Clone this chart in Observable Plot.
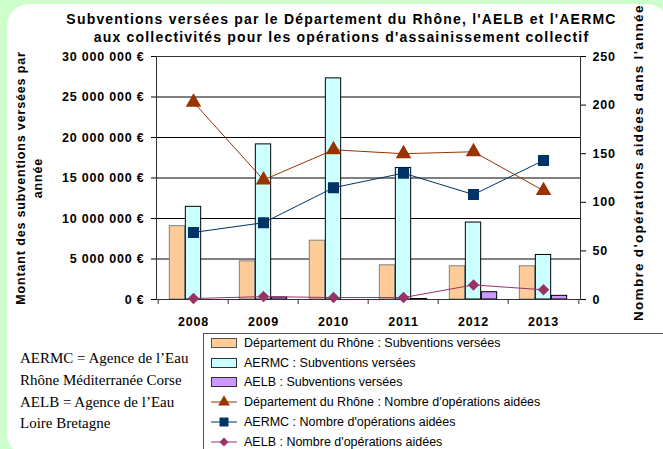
<!DOCTYPE html>
<html>
<head>
<meta charset="utf-8">
<script src="https://cdn.jsdelivr.net/npm/d3@7"></script>
<script src="https://cdn.jsdelivr.net/npm/@observablehq/plot@0.6"></script>
<style>
  html, body { margin: 0; padding: 0; }
  body { width: 663px; height: 449px; background: #ccffcc; position: relative; overflow: hidden; font-family: "Liberation Sans", Arial, sans-serif; }
  #card { position: absolute; left: 7px; top: 4px; width: 662px; height: 452px; background: #fff; border-radius: 22px; }
  #chart { position: absolute; left: 0; top: 0; }
  #chart svg text { letter-spacing: 0.8px; }
  .title { position: absolute; left: 0; width: 683px; text-align: center; font-weight: bold; font-size: 14px; letter-spacing: 1.2px; color: #000; white-space: nowrap; }
  #ylabL { position: absolute; left: -110px; top: 161px; width: 280px; text-align: center; font-weight: bold; font-size: 12.5px; letter-spacing: 0.85px; line-height: 17px; transform: rotate(-90deg); }
  #ylabR { position: absolute; font-weight: bold; font-size: 13.5px; letter-spacing: 1.3px; white-space: nowrap; transform-origin: 0 0; transform: rotate(-90deg); left: 631px; top: 321px; }
  #notes { position: absolute; left: 20px; top: 348px; font-family: "Liberation Serif", "Times New Roman", serif; font-size: 15px; line-height: 21.8px; color: #000; }
  #legend { position: absolute; left: 203px; top: 333px; width: 480px; height: 130px; border: 1px solid #555; background: #fff; }
  #legend div { position: absolute; left: 6px; height: 20px; font-size: 12.5px; white-space: nowrap; display: flex; align-items: center; }
  #legend svg { margin-right: 6px; }
</style>
</head>
<body>
<div id="card"></div>
<div id="chart"></div>
<div class="title" style="top:11px">Subventions versées par le Département du Rhône, l'AELB et l'AERMC</div>
<div class="title" style="top:29px">aux collectivités pour les opérations d'assainissement collectif</div>
<div id="ylabL">Montant des subventions versées par<br>année</div>
<div id="ylabR">Nombre d'opérations aidées dans l'année</div>
<div id="notes">AERMC = Agence de l’Eau<br>Rhône Méditerranée Corse<br>AELB = Agence de l’Eau<br>Loire Bretagne</div>
<div id="legend"></div>
<script>
// ---- data ----
const years = ["2008", "2009", "2010", "2011", "2012", "2013"];
const rhoneMontant = [9050000, 4710000, 7260000, 4220000, 4100000, 4100000];
const aermcMontant = [11440000, 19150000, 27300000, 16240000, 9500000, 5500000];
const aelbMontant  = [0, 250000, 0, 60000, 900000, 450000];
const rhoneNb = [203, 123, 154, 150, 152, 112];
const aermcNb = [69, 79, 115, 130, 108, 143];
const aelbNb  = [1, 3, 2, 2, 15, 10];
const leftTicks = [0, 5000000, 10000000, 15000000, 20000000, 25000000, 30000000];
const rightTicks = [0, 50, 100, 150, 200, 250];
const seriesNames = [
  "Département du Rhône : Subventions versées",
  "AERMC : Subventions versées",
  "AELB : Subventions versées",
  "Département du Rhône : Nombre d'opérations aidées",
  "AERMC : Nombre d'opérations aidées",
  "AELB : Nombre d'opérations aidées"
];

// ---- styles ----
const colRhoneBar = "#ffcc99", colAermcBar = "#ccffff", colAelbBar = "#cc99ff";
const colRhoneLine = "#993300", colAermcLine = "#003366", colAelbLine = "#993366";

const W = 663, H = 330, mL = 156, mR = 83, mT = 56, mB = 31;
const k = 30000000 / 250; // right axis to left axis factor
const bw = (W - mL - mR) / years.length;
const barW = 16, pad = (bw - 3 * barW) / 2;

const rows = years.map((y, i) => ({
  year: y,
  rhone: rhoneMontant[i], aermc: aermcMontant[i], aelb: aelbMontant[i],
  rhoneNb: rhoneNb[i] * k, aermcNb: aermcNb[i] * k, aelbNb: aelbNb[i] * k
}));

const fmtEuro = d => d3.format(",")(d).replace(/,/g, " ") + " €";
const pxPerUnit = 30000000 / (H - mT - mB);

const chart = Plot.plot({
  width: W, height: H,
  marginLeft: mL, marginRight: mR, marginTop: mT, marginBottom: mB,
  style: { background: "transparent", fontFamily: "Liberation Sans, Arial, sans-serif", color: "#000" },
  x: { type: "band", domain: years, padding: 0 },
  y: { domain: [0, 30000000] },
  marks: [
    Plot.gridY(leftTicks, { stroke: "#000", strokeOpacity: 1 }),
    Plot.barY(rows, { x: "year", y: "rhone", fill: colRhoneBar, stroke: "#7f7f7f", insetLeft: pad, insetRight: bw - pad - barW }),
    Plot.barY(rows, { x: "year", y: "aermc", fill: colAermcBar, stroke: "#000", insetLeft: pad + barW, insetRight: pad + barW }),
    Plot.barY(rows, { x: "year", y: "aelb", fill: colAelbBar, stroke: "#000", insetLeft: pad + 2 * barW, insetRight: pad }),
    Plot.frame({ stroke: "#333" }),
    Plot.ruleX(years, { x: d => d, y1: 0, y2: -5 * pxPerUnit, dx: -bw / 2, stroke: "#333" }),
    Plot.ruleX([years[years.length - 1]], { x: d => d, y1: 0, y2: -5 * pxPerUnit, dx: bw / 2, stroke: "#333" }),
    Plot.line(rows, { x: "year", y: "rhoneNb", stroke: colRhoneLine, strokeWidth: 1 }),
    Plot.line(rows, { x: "year", y: "aermcNb", stroke: colAermcLine, strokeWidth: 1 }),
    Plot.line(rows, { x: "year", y: "aelbNb", stroke: colAelbLine, strokeWidth: 1 }),
    Plot.dot(rows, { x: "year", y: "rhoneNb", symbol: "triangle", r: 4.8, fill: colRhoneLine, stroke: colRhoneLine }),
    Plot.dot(rows, { x: "year", y: "aermcNb", symbol: "square", r: 5.4, fill: colAermcLine, stroke: colAermcLine }),
    Plot.dot(rows, { x: "year", y: "aelbNb", symbol: "diamond2", r: 4.2, fill: colAelbLine, stroke: colAelbLine }),
    Plot.axisY(leftTicks, { anchor: "left", tickFormat: fmtEuro, tickSize: 5, tickPadding: 7, fontWeight: "bold", fontSize: 12.5, label: null }),
    Plot.axisY(rightTicks.map(v => v * k), { anchor: "right", tickFormat: d => d / k, tickSize: 5, tickPadding: 7, fontWeight: "bold", fontSize: 12.5, label: null }),
    Plot.axisX({ anchor: "bottom", tickSize: 0, tickPadding: 18, fontWeight: "bold", fontSize: 12.5, label: null })
  ]
});
document.getElementById("chart").appendChild(chart);

// ---- legend ----
const legend = document.getElementById("legend");
const swatches = [
  { type: "bar", fill: colRhoneBar, stroke: "#555" },
  { type: "bar", fill: colAermcBar, stroke: "#333" },
  { type: "bar", fill: colAelbBar, stroke: "#333" },
  { type: "line", color: colRhoneLine, sym: d3.symbolTriangle, size: 60 },
  { type: "line", color: colAermcLine, sym: d3.symbolSquare, size: 80 },
  { type: "line", color: colAelbLine, sym: d3.symbolDiamond2, size: 50 }
];
seriesNames.forEach((name, i) => {
  const row = document.createElement("div");
  row.style.top = (i * 19.7 - 1) + "px";
  const s = swatches[i];
  let svg;
  if (s.type === "bar") {
    svg = `<svg width="28" height="14"><rect x="1.5" y="2.5" width="25" height="9" fill="${s.fill}" stroke="${s.stroke}"/></svg>`;
  } else {
    svg = `<svg width="28" height="14"><line x1="1" x2="27" y1="7" y2="7" stroke="${s.color}"/><path transform="translate(14,7)" d="${d3.symbol(s.sym, s.size)()}" fill="${s.color}"/></svg>`;
  }
  row.innerHTML = svg + `<span>${name}</span>`;
  legend.appendChild(row);
});
</script>
</body>
</html>
